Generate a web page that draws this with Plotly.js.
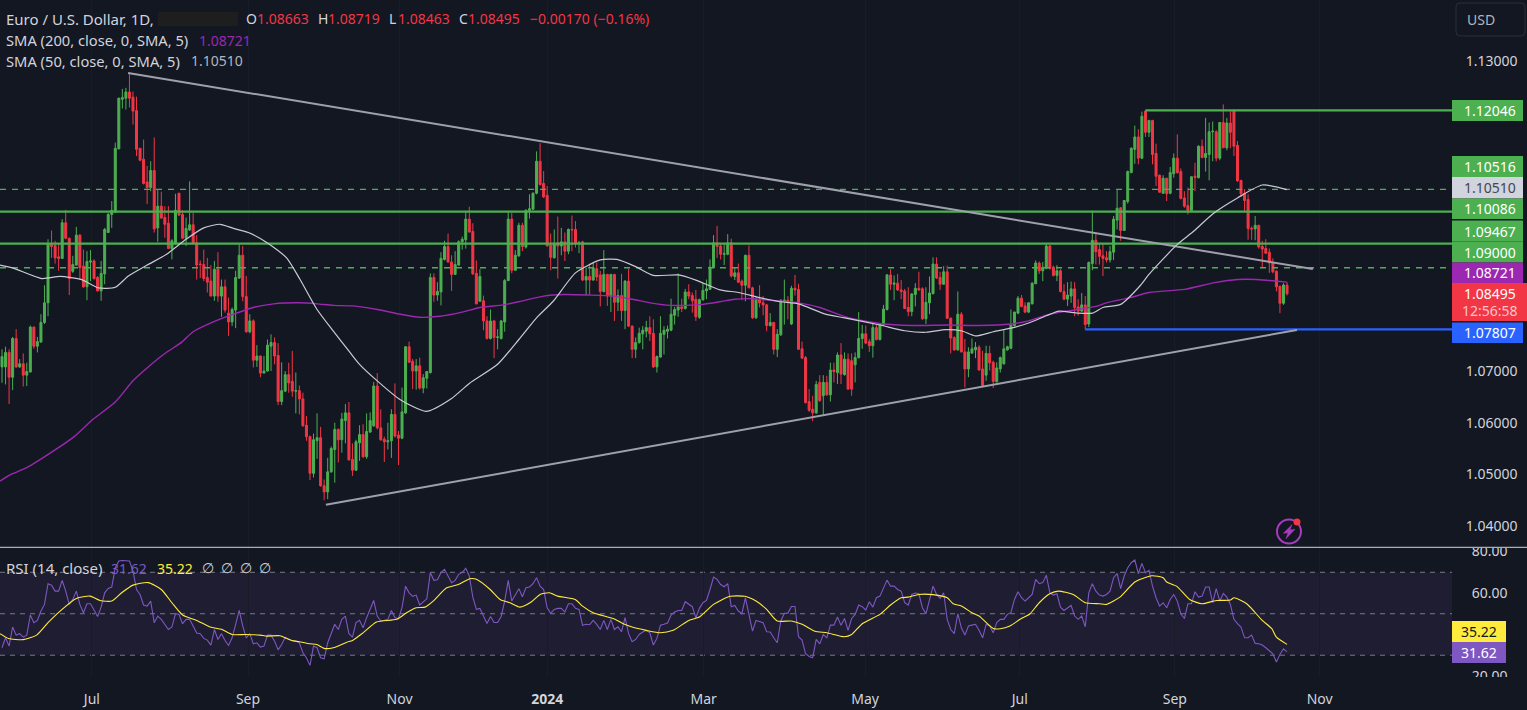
<!DOCTYPE html>
<html><head><meta charset="utf-8">
<script src="https://cdn.plot.ly/plotly-3.0.1.min.js"></script>
<style>html,body{margin:0;padding:0;background:#131722;overflow:hidden}#c{width:1527px;height:710px}</style>
</head><body><div id="c"></div>
<script>
// Prices are in ten-thousandths of a dollar (10849.5 = 1.08495)
const openTicks = [10708,10708,10736,10688,10763,10708,10714,10692,10698,10785,
10748,10756,10794,10832,10945,10943,10921,10918,10987,10957,
10893,10905,10963,10903,10863,10911,10913,10881,10855,10888,
10968,11003,11008,11130,11226,11228,11240,11230,11204,11131,
11110,11066,11055,11088,10977,11019,10997,10986,10937,10946,
11044,11003,10957,10973,10983,10948,10907,10906,10881,10874,
10845,10897,10845,10863,10812,10795,10818,10880,10924,10844,
10776,10797,10721,10729,10696,10700,10748,10755,10730,10641,
10661,10693,10680,10661,10662,10646,10595,10573,10502,10565,
10571,10478,10466,10505,10548,10587,10567,10604,10619,10529,
10508,10561,10577,10534,10582,10594,10671,10590,10568,10563,
10565,10616,10576,10570,10619,10747,10719,10700,10710,10667,
10686,10697,10881,10847,10853,10916,10941,10911,10887,10905,
10950,10954,10994,10970,10889,10835,10836,10797,10763,10797,
10765,10763,10795,10875,10994,10895,10923,10982,10940,11011,
11013,11044,11106,11063,11040,10944,10919,10948,10942,10950,
10932,10974,10974,10947,10950,10876,10883,10876,10898,10886,
10854,10887,10845,10887,10833,10846,10817,10874,10787,10742,
10755,10772,10777,10784,10773,10708,10727,10771,10777,10779,
10808,10818,10824,10821,10853,10846,10839,10804,10838,10855,
10858,10900,10948,10942,10926,10926,10948,10883,10890,10874,
10866,10924,10861,10803,10839,10832,10828,10788,10794,10742,
10770,10836,10837,10791,10860,10858,10743,10726,10641,10626,
10619,10678,10652,10678,10654,10702,10697,10731,10693,10723,
10720,10712,10726,10763,10772,10757,10749,10784,10761,10789,
10819,10886,10868,10870,10857,10855,10823,10815,10848,10860,
10859,10801,10832,10850,10907,10881,10868,10892,10802,10765,
10741,10810,10737,10704,10735,10741,10746,10704,10692,10734,
10717,10679,10704,10714,10741,10744,10788,10812,10841,10826,
10814,10830,10869,10909,10894,10899,10942,10901,10885,10894,
10854,10839,10845,10859,10824,10816,10828,10791,10908,10953,
10935,10923,10919,10915,10930,10992,11016,10972,11028,11084,
11129,11153,11112,11203,11162,11185,11121,11079,11044,11073,
11044,11082,11112,11086,11035,11020,11011,11077,11074,11135,
11113,11119,11163,11163,11112,11181,11132,11180,11204,11137,
11069,11044,11032,10976,10975,10982,10941,10937,10930,10910,
10893,10864,10831.1,10866.3];
const highTicks = [10742,10747,10742,10766,10781,10723,10734,10716,10788,10786,
10766,10810,10866,10955,10972,10952,10948,10994,11012,10958,
10923,10979,10965,10935,10932,10934,10916,10884,10913,10977,
11006,11029,11142,11229,11246,11248,11277,11241,11231,11132,
11148,11097,11106,11152,11050,11047,11019,11019,10955,11043,
11045,11011,10997,11067,11006,10963,10914,10935,10919,10905,
10913,10930,10877,10877,10842,10823,10894,10945,10942,10884,
10810,10800,10750,10730,10729,10761,10771,10765,10754,10717,
10700,10716,10739,10697,10672,10658,10613,10575,10579,10618,
10592,10490,10532,10554,10600,10589,10619,10636,10640,10560,
10567,10595,10597,10618,10620,10679,10696,10626,10573,10600,
10626,10676,10584,10668,10748,10757,10723,10723,10726,10694,
10700,10889,10889,10872,10930,10952,10966,10924,10932,10953,
10960,11010,11018,10986,10914,10897,10846,10806,10819,10799,
10781,10799,10878,11010,11006,10934,10987,10987,11013,11042,
11046,11125,11141,11087,11058,10966,10974,10999,10977,10968,
10976,11001,10990,10952,10952,10900,10908,10910,10910,10894,
10934,10888,10888,10888,10858,10888,10876,10898,10788,10765,
10784,10787,10797,10806,10800,10730,10806,10787,10788,10840,
10824,10889,10840,10859,10868,10852,10857,10840,10870,10877,
10916,10963,10981,10948,10945,10965,10956,10900,10908,10877,
10925,10943,10863,10844,10866,10845,10830,10812,10795,10781,
10839,10877,10845,10865,10886,10869,10757,10729,10665,10652,
10681,10692,10692,10691,10716,10716,10736,10754,10736,10734,
10734,10736,10814,10789,10788,10762,10791,10789,10793,10828,
10888,10897,10885,10888,10876,10859,10862,10851,10870,10892,
10862,10862,10883,10920,10920,10892,10903,10904,10804,10767,
10854,10814,10762,10746,10763,10756,10750,10739,10749,10749,
10720,10717,10728,10779,10749,10819,10815,10845,10847,10833,
10833,10872,10914,10912,10911,10946,10944,10904,10905,10897,
10868,10872,10873,10872,10839,10851,10845,10912,11010,10965,
10947,10947,10932,10942,11000,11050,11017,11031,11088,11133,
11175,11168,11202,11204,11186,11186,11140,11080,11079,11074,
11095,11121,11158,11092,11048,11055,11077,11103,11137,11148,
11190,11181,11183,11166,11182,11216,11190,11203,11206,11145,
11070,11052,11042,10980,11000,10983,10952,10955,10937,10918,
10895,10865,10870,10871.9];
const lowTicks = [10677,10674,10636,10663,10706,10706,10670,10671,10698,10743,
10736,10755,10791,10806,10919,10908,10894,10918,10955,10847,
10890,10904,10877,10861,10837,10874,10877,10854,10836,10868,
10968,10977,11006,11129,11208,11206,11210,11177,11116,11106,
11061,11023,11048,10968,10950,10995,10958,10937,10916,10945,
11000,10955,10942,10971,10945,10877,10880,10874,10852,10845,
10836,10834,10805,10813,10768,10787,10783,10878,10835,10774,
10773,10707,10708,10688,10696,10699,10700,10713,10634,10634,
10659,10658,10650,10618,10616,10592,10565,10489,10494,10530,
10476,10450,10452,10503,10484,10523,10542,10560,10527,10497,
10507,10526,10532,10530,10580,10592,10587,10565,10524,10548,
10532,10571,10518,10568,10617,10716,10665,10664,10664,10657,
10666,10695,10834,10836,10827,10914,10910,10855,10886,10904,
10935,10937,10968,10886,10829,10834,10779,10761,10761,10725,
10742,10761,10776,10874,10889,10894,10921,10932,10937,10995,
11012,11042,11059,11035,10941,10895,10918,10879,10924,10913,
10926,10932,10939,10928,10874,10847,10848,10875,10874,10825,
10852,10826,10814,10797,10816,10797,10781,10785,10725,10725,
10753,10742,10765,10758,10706,10697,10726,10732,10763,10777,
10790,10805,10814,10819,10839,10813,10797,10801,10836,10839,
10857,10899,10919,10916,10905,10924,10881,10876,10870,10837,
10835,10860,10801,10801,10823,10808,10777,10786,10732,10727,
10768,10790,10800,10789,10846,10741,10723,10637,10621,10603,
10617,10640,10614,10652,10641,10678,10675,10675,10691,10664,
10652,10678,10724,10743,10752,10737,10726,10759,10759,10788,
10817,10857,10837,10855,10839,10820,10806,10806,10825,10855,
10799,10791,10810,10848,10878,10857,10867,10801,10734,10739,
10739,10736,10668,10688,10733,10725,10701,10670,10681,10701,
10667,10678,10697,10712,10739,10742,10786,10810,10823,10812,
10812,10829,10868,10888,10874,10897,10896,10883,10874,10852,
10837,10826,10832,10806,10807,10814,10780,10785,10895,10906,
10906,10884,10910,10910,10915,10974,10952,10971,11024,11083,
11101,11100,11110,11153,11153,11100,11058,11045,11043,11029,
11042,11074,11082,11032,11016,11003,11008,11048,11073,11112,
11086,11069,11106,11106,11108,11132,11127,11131,11116,11066,
11037,11010,10954,10954,10953,10937,10900,10927,10890,10889,
10854,10812,10828,10846.3];
const closeTicks = [10728,10736,10688,10763,10708,10714,10692,10699,10785,10748,
10757,10794,10832,10946,10941,10919,10918,10987,10957,10879,
10906,10963,10900,10863,10912,10913,10879,10855,10889,10974,
11003,11011,11131,11228,11229,11240,11228,11203,11129,11108,
11063,11055,11088,10975,11019,10996,10984,10937,10952,11011,
11002,10957,10976,10983,10947,10905,10906,10879,10872,10845,
10897,10845,10863,10818,10795,10819,10881,10924,10844,10776,
10797,10721,10729,10696,10700,10750,10755,10729,10641,10662,
10693,10677,10661,10662,10646,10594,10573,10502,10567,10571,
10478,10466,10505,10550,10587,10567,10607,10619,10528,10508,
10563,10577,10534,10583,10604,10671,10590,10567,10563,10565,
10616,10574,10570,10621,10747,10717,10700,10710,10667,10687,
10699,10881,10847,10854,10918,10941,10911,10887,10906,10950,
10955,10994,10969,10888,10830,10883,10797,10763,10797,10765,
10766,10797,10875,10994,10895,10924,10982,10941,11011,11014,
11044,11106,11061,11037,10942,10920,10945,10942,10950,10932,
10974,10973,10947,10948,10876,10883,10876,10900,10882,10854,
10887,10845,10887,10833,10846,10817,10874,10787,10742,10755,
10773,10779,10784,10772,10708,10728,10773,10779,10781,10810,
10819,10824,10821,10853,10845,10836,10805,10838,10856,10859,
10901,10948,10941,10926,10927,10948,10884,10890,10872,10866,
10924,10861,10803,10838,10832,10828,10788,10794,10742,10771,
10837,10837,10836,10860,10857,10742,10725,10639,10624,10619,
10674,10643,10678,10654,10702,10699,10731,10694,10723,10665,
10665,10726,10763,10772,10754,10749,10784,10761,10791,10820,
10886,10868,10870,10857,10854,10821,10815,10849,10860,10857,
10801,10833,10851,10907,10880,10868,10892,10802,10764,10741,
10810,10737,10704,10737,10743,10746,10702,10672,10734,10716,
10680,10706,10726,10743,10747,10789,10814,10841,10825,10814,
10832,10870,10909,10894,10901,10942,10899,10885,10894,10854,
10839,10847,10859,10823,10816,10828,10790,10910,10953,10931,
10922,10918,10915,10931,10994,11015,10972,11030,11086,11131,
11153,11112,11193,11162,11185,11119,11077,11046,11073,11043,
11084,11112,11084,11034,11019,11011,11076,11075,11135,11113,
11121,11163,11164,11112,11181,11132,11180,11162,11135,11068,
11043,11030,10976,10975,10982,10940,10936,10928,10909,10892,
10863,10831,10866.5,10849.5];

const sma200Bars = [-0.56,2.3,7,13.6,20.2,25.8,32,37,40,45.6,50.8,54,59.7,65.4,71,76.7,84,89,93.6,99,106,112.4,118,123.7,130,135,141.6,146,153,158.6,166,172.7,178,184,188.7,193,198,202.8,207,212,217,221.7,225,231,238.6,248,257,267,276,285,290,295,300,304.5,309,312,318.7,324,334,342.6,349,354.4,363];
const sma200Vals = [10487,10499,10513,10541,10572,10607,10640,10681,10700,10732,10756,10776,10795,10810,10823,10830,10832,10830,10827,10826,10819,10810,10804,10806,10814,10823,10828,10834,10845,10848,10847,10845,10839,10831,10827,10827,10829,10834,10839,10840,10837,10834,10832,10823,10804,10792,10788,10789,10788,10791,10797,10808,10815,10820,10825,10832,10842,10852,10858,10871,10877,10877,10872.1];
const sma50Bars = [-0.56,3.2,11.2,16.4,22.5,27.2,32,35.7,41,46.5,52,57,61.6,65.4,69.6,75,80.4,84.2,89,93.6,98.3,101,106,112.4,119.8,127,132,140,146,151,155.7,162,169,173.7,179,184,191,196,202.8,208,214,220,225,232.6,238,248,255,261,266.6,271,275,280,285,290,295,298.6,304,308,311,316,321.5,324,332,336.7,342,349,356,363];
const sma50Vals = [10905,10899,10879,10883,10877,10861,10862,10884,10905,10926,10955,10977,10984,10976,10968,10948,10919,10877,10819,10777,10736,10713,10681,10645,10622,10647,10676,10713,10761,10803,10835,10890,10915,10916,10902,10885,10886,10876,10857,10852,10842,10834,10830,10810,10803,10789,10778,10775,10780,10778,10768,10776,10783,10793,10807,10816,10812,10812,10823,10829,10865,10887,10945,10971,11004,11035,11060,11051];

const rsiVals = [33.6,38.4,34.4,43.6,39.7,40.4,38.7,39.7,49.4,45.7,46.8,51.3,54.5,64.5,63.8,60.9,60.9,66.1,60.9,54.5,
56.9,60.9,54.5,50.5,54.8,54.8,51.8,48.7,53.2,60.1,62.2,62.9,72.2,75.4,75.7,75.7,75.4,70.6,61.7,59.3,
54.2,53.7,56.1,45.7,48.9,47.3,44.9,42.4,43.6,50,49.7,45.2,47.3,47.3,44.1,40.7,40.4,38.1,37.3,34.9,
42.4,37.6,40.4,37.1,34.7,38.4,44.9,51.6,44.1,38.4,40.4,35.5,36,33.9,34.4,39.7,39.7,36.8,32.6,35.2,
38.7,37.6,37.1,36.8,36,31.2,28.8,25.1,34.4,33.6,28.8,28.3,36,40.8,44.9,42.4,47.3,48.9,40.4,38.7,
45.7,46.8,43.2,48.1,52.6,56.4,48.9,46.5,46.8,47.3,51.6,48.1,47.7,52.9,63.3,60.1,58.4,59,54.2,55.8,
57.2,69.8,66.1,66.4,69.8,71.4,68.2,65,66.1,69,69.8,71.9,68.2,58,52.1,52.6,48.9,45.3,48.7,45.8,
45.8,48.7,56.1,66.1,56.1,59.3,62.1,58.2,62.5,62.9,64.5,67.4,63.3,61.7,52.9,50.2,52.1,52.6,52.6,50.8,
54.8,54.8,52.6,52.1,44.4,44.9,44.7,46.8,44.9,42.4,46.8,42.4,47.3,42.4,43.7,41.3,48.1,40.4,36.5,37.6,
40,41.2,42,40.8,34.9,38.1,44.5,44.9,45.5,49.4,50.8,51.6,51.6,55.8,54.5,53.4,48.1,52.6,55.3,56.4,
61.7,67.7,66.6,64.1,63,64.5,53.4,54,51.3,50,57.7,49.7,41.6,46.8,46.1,45.7,41.3,41.2,38.4,36,
46.5,50.2,50.3,53.5,53.5,38.9,37.3,30.7,29.4,28.8,37.6,35.5,40,38.4,44.5,44.5,48.4,44.4,47.7,42,
47.7,49.7,54.2,53.4,51.8,55.8,53.2,57.7,58.5,62.5,66.2,63.3,63.3,61.7,60.9,55.3,54.2,59.3,60,59.6,
52.9,50,56.9,63.3,59.3,57.4,60.1,47.3,42.4,40.4,50,43.2,39.7,44.1,44.5,44.9,42,38.4,44.9,44.1,
40.8,45.7,47.3,47.3,49.7,50.5,56.9,60.6,57.7,56.1,57.7,59.3,66.6,64.5,65,68.6,60.1,59,59.6,53.2,
51.6,52.6,54,48.9,47.3,48.9,43.7,60.1,64.5,60.9,59,58.5,59.3,60.9,67.4,69.3,62.1,68.2,72.2,74.6,
75.9,69.3,74.3,69.8,70.9,63.3,57.7,53.7,55.3,52.9,56.9,59.3,56.1,50,47.7,54.8,54.8,60.6,58,58.5,
62.9,62.9,55.3,62.1,56.1,59.8,58,54.5,47.3,45.2,43.6,38.4,38.4,39.7,35.7,35.5,34.9,33.6,32.3,30.7,
26.7,30.4,33.1,31.62];
const rsiMaBars = [-0.56,1.8,6,9.8,13,16.4,21,24.9,27.7,31,33.8,37,41.3,45,48,51,55,58.8,62,65,69,72.9,74.8,78.5,81.8,84,87,88.9,91,93.6,97.4,99,102,105.8,111.5,114.3,117,119.5,121.8,125.6,128.9,132.2,134,137.9,140.7,143.5,146.3,149.6,152,154.6,157,161.9,164,167,172.7,175.5,178,182,186,189.6,194,197,201,205.6,209.9,213,216,219,223,226,229.6,233,238,240,243,248,251,254,256,259,263,267,268.7,271,274,276,280,282,284.7,287.6,290.4,293,296,298.4,302.6,306,310,312,315.8,320,324.8,328,329,331.8,335.5,339,343,347,348,351.6,356,358.7,360,363];
const rsiMaVals = [40.4,38.1,37.5,39.7,45.7,51.3,57.4,58.5,56.4,56.1,60.1,63.8,65,61.7,55.3,49.4,46.8,43.6,42.5,40,40,39.7,39.2,39.4,37.1,36.5,35.5,35.2,33.3,33.6,36.3,37.1,40.8,46,47.3,50.5,52.9,53.2,56.1,62.5,64.1,66.9,66.6,61.7,56.9,55.3,53.2,55.8,59.3,60.1,58.5,56.9,53.7,50.5,47.7,45.2,43.6,42,40.8,42,46.8,48.4,54.5,58.4,58.4,56.1,52.1,46.5,46.5,44.9,41.6,40.8,38.9,40,45.2,49.7,54.2,57.7,58,59.3,59.2,57.7,54.8,53.7,50.5,48.9,42.9,42.8,44.1,47.3,50,55.3,59.6,60.9,59.3,55.3,54.8,54.5,58,65.3,68.3,67.4,65.3,63.3,56.9,54.8,56.4,56.6,57.7,54.8,46.8,42.8,38.7,35.22];

const tickBars = [25.4,69.5,112.3,154,198.2,243.8,287.5,331.3,372.2];
const tickLabels = ['Jul','Sep','Nov','<b>2024</b>','Mar','May','Jul','Sep','Nov'];
const priceTicks = [1.04,1.05,1.06,1.07,1.13];
const rsiTicks = [20,60,80];

const upperTrendBars = [35.6,370.3], upperTrendVals = [1.12768,1.08974];
const lowerTrendBars = [91.5,365.8], lowerTrendVals = [1.0441,1.07794];
const level1 = 1.12046, level2 = 1.10516, level3 = 1.10086, level4 = 1.09467, level5 = 1.09, level6 = 1.07807;
const level1StartBar = 323, level6StartBar = 306;

const GREEN='#4CAF50', RED='#F23645', BG='#131722', TXT='#D1D4DC', FONT='"Noto Sans", "Open Sans", sans-serif';
const W=1452, H=677, XMIN=-0.565, XMAX=409.6;
const px=v=>v/W, py=v=>1-v/H;
const toPrice=a=>a.map(v=>v/10000);
const bars=openTicks.map((_,i)=>i);

const hline=(x0,y,color,width,dash)=>({type:'scatter',mode:'lines',x:[x0,XMAX],y:[y,y],xaxis:'x',yaxis:'y',line:{color,width,dash:dash||'solid'},hoverinfo:'skip',showlegend:false});
const series=(x,y,color,width,yaxis,smooth)=>({type:'scatter',mode:'lines',x,y,xaxis:'x',yaxis,line:smooth?{color,width,shape:'spline',smoothing:0.6}:{color,width},hoverinfo:'skip',showlegend:false});

const traces=[
 {type:'candlestick',x:bars,open:toPrice(openTicks),high:toPrice(highTicks),low:toPrice(lowTicks),close:toPrice(closeTicks),xaxis:'x',yaxis:'y',
  increasing:{line:{color:GREEN,width:1},fillcolor:GREEN},decreasing:{line:{color:RED,width:1},fillcolor:RED},whiskerwidth:0,showlegend:false,hoverinfo:'skip'},
 hline(XMIN,level2,GREEN,1.4,'6px,6px'),
 hline(XMIN,level5,GREEN,1.4,'6px,6px'),
 hline(level1StartBar,level1,GREEN,2.2),
 hline(XMIN,level3,GREEN,2.2),
 hline(XMIN,level4,GREEN,2.2),
 hline(level6StartBar,level6,'#2962FF',2.2),
 series(upperTrendBars,upperTrendVals,'#9EA1AB',2,'y'),
 series(lowerTrendBars,lowerTrendVals,'#9EA1AB',2,'y'),
 series(sma200Bars,toPrice(sma200Vals),'#9C27B0',1.4,'y',true),
 series(sma50Bars,toPrice(sma50Vals),'#C8CBD3',1.2,'y',true),
 series(bars,rsiVals,'#7E57C2',1.1,'y2'),
 series(rsiMaBars,rsiMaVals,'#FFEB3B',1.1,'y2',true)
];

const rect=(x0,y0,x1,y1,fill,line)=>({type:'rect',xref:'paper',yref:'paper',x0:px(x0),x1:px(x1),y0:py(y0),y1:py(y1),fillcolor:fill,line:{color:line||fill,width:line?1:0},layer:'above'});
const lbl=(x,y,text,color,size,anchor)=>({xref:'paper',yref:'paper',x:px(x),y:py(y),text,showarrow:false,xanchor:anchor||'left',yanchor:'middle',font:{family:FONT,size:size||13.5,color},borderpad:0});
const poly=pts=>'M '+pts.map(p=>`${px(p[0])} ${py(p[1])}`).join(' L ')+' Z';

const priceLabels=[
 [100,121,'1.12046',GREEN,'#fff'],[156,177,'1.10516',GREEN,'#fff'],[177,198.5,'1.10510','#D1D4DC','#434651'],
 [198.5,219,'1.10086',GREEN,'#fff'],[220.5,241.5,'1.09467',GREEN,'#fff'],[241.5,262.5,'1.09000',GREEN,'#fff'],
 [262.5,283,'1.08721','#9C27B0','#fff'],[322.5,343,'1.07807','#2962FF','#fff']];

const shapes=[
 rect(1452,540,1527,548,BG),
 rect(1452,677,1527,690,BG),
 {type:'rect',xref:'x',yref:'y2',x0:XMIN,x1:XMAX,y0:30,y1:70,fillcolor:'rgba(126,87,194,0.1)',line:{width:0},layer:'below'},
 ...[70,50,30].map(v=>({type:'line',xref:'x',yref:'y2',x0:XMIN,x1:XMAX,y0:v,y1:v,line:{color:'#787B86',width:1,dash:'5px,5px'},layer:'below'})),
 {type:'line',xref:'paper',yref:'paper',x0:0,x1:1527/W,y0:py(547.3),y1:py(547.3),line:{color:'#D1D4DC',width:1},layer:'above'},
 ...priceLabels.map(r=>rect(1452,r[0],1523,r[1],r[3])),
 rect(1452,283,1527,321,RED),
 rect(1452,621,1506,642,'#FFEB3B'),
 rect(1452,642,1506,663,'#7E57C2'),
 rect(158,12,238,26,'#1E1E1E'),
 {type:'path',xref:'paper',yref:'paper',layer:'above',fillcolor:BG,line:{color:'#2A2E39',width:1},
  path:`M ${px(1460)} ${py(3)} L ${px(1521)} ${py(3)} Q ${px(1525)} ${py(3)} ${px(1525)} ${py(7)} L ${px(1525)} ${py(32)} Q ${px(1525)} ${py(36)} ${px(1521)} ${py(36)} L ${px(1460)} ${py(36)} Q ${px(1456)} ${py(36)} ${px(1456)} ${py(32)} L ${px(1456)} ${py(7)} Q ${px(1456)} ${py(3)} ${px(1460)} ${py(3)} Z`},
 {type:'circle',xref:'paper',yref:'paper',x0:px(1277),x1:px(1301),y0:py(543.5),y1:py(519.5),line:{color:'#A63CBE',width:2},fillcolor:BG,layer:'above'},
 {type:'path',xref:'paper',yref:'paper',path:poly([[1292,524.7],[1283.3,533.3],[1288,532.7],[1286,538.7],[1295,529.3],[1290,530]]),line:{color:'#A63CBE',width:0.5},fillcolor:'#A63CBE',layer:'above'},
 {type:'circle',xref:'paper',yref:'paper',x0:px(1293.5),x1:px(1300.5),y0:py(525.5),y1:py(518.5),fillcolor:RED,line:{color:RED,width:0},layer:'above'}
];

const annotations=[
 lbl(5,19,'Euro / U.S. Dollar, 1D,',TXT,15),
 lbl(245,19,'O',TXT,14),lbl(256,19,'1.08663',RED,14),
 lbl(317,19,'H',TXT,14),lbl(327,19,'1.08719',RED,14),
 lbl(388,19,'L',TXT,14),lbl(397,19,'1.08463',RED,14),
 lbl(458,19,'C',TXT,14),lbl(467,19,'1.08495',RED,14),
 lbl(529,19,'−0.00170 (−0.16%)',RED,14),
 lbl(5,40,'SMA (200, close, 0, SMA, 5)',TXT,14.7),lbl(198,40,'1.08721','#9C27B0',14),
 lbl(5,61,'SMA (50, close, 0, SMA, 5)',TXT,14.7),lbl(190,61,'1.10510','#B2B5BE',14),
 lbl(5,568,'RSI (14, close)',TXT,15),lbl(110,568,'31.62','#7E57C2',14),lbl(156,568,'35.22','#FFEB3B',14),
 lbl(201,568,'∅',TXT),lbl(220,568,'∅',TXT),lbl(239,568,'∅',TXT),lbl(258,568,'∅',TXT),
 lbl(1466,20,'USD','#B2B5BE',14),
 ...priceLabels.map(r=>lbl(1490,(r[0]+r[1])/2,r[2],r[4],14,'center')),
 lbl(1490,293,'1.08495','#fff',14,'center'),
 lbl(1490,311,'12:56:58','#FBC5CA',14,'center'),
 lbl(1479,631.5,'35.22','#131722',14,'center'),
 lbl(1479,652.5,'31.62','#fff',14,'center')
];

const layout={
 width:1527,height:710,paper_bgcolor:BG,plot_bgcolor:BG,showlegend:false,dragmode:false,boxgap:0.2,
 margin:{l:0,r:75,t:0,b:33,pad:0},
 font:{family:FONT,size:14,color:TXT},
 xaxis:{domain:[0,1],anchor:'y2',range:[XMIN,XMAX],tickmode:'array',tickvals:tickBars,ticktext:tickLabels,showgrid:true,gridcolor:'#181C28',gridwidth:1,zeroline:false,showline:false,ticks:'outside',ticklen:9,tickcolor:BG,rangeslider:{visible:false},tickfont:{family:FONT,size:14,color:TXT}},
 yaxis:{domain:[1-547/H,1],range:[1.13-486/5167,1.13+61/5167],side:'right',anchor:'x',tickmode:'array',tickvals:priceTicks,tickformat:'.5f',showgrid:false,zeroline:false,showline:false,ticks:'outside',ticklen:10,tickcolor:BG,tickfont:{family:FONT,size:14,color:TXT}},
 yaxis2:{domain:[0,1-548/H],range:[19.5,81.7],side:'right',anchor:'x',tickmode:'array',tickvals:rsiTicks,tickformat:'.2f',showgrid:false,zeroline:false,showline:false,ticks:'outside',ticklen:16,tickcolor:BG,tickfont:{family:FONT,size:14,color:TXT}},
 shapes,annotations
};
Plotly.newPlot('c',traces,layout,{displayModeBar:false,staticPlot:true});
</script>
</body></html>
